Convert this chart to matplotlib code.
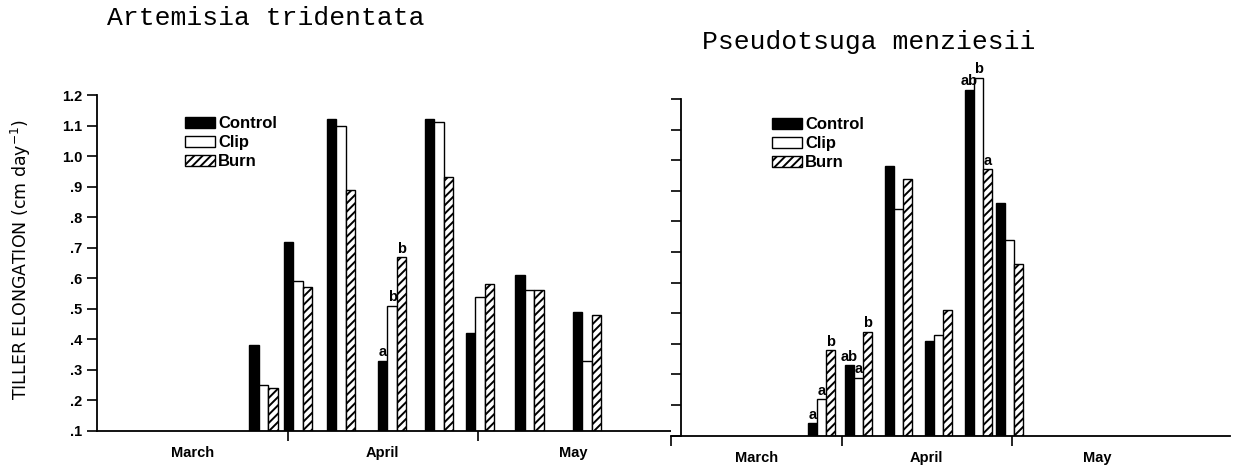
import numpy as np
import matplotlib
matplotlib.use('Agg')
import matplotlib.pyplot as plt

plt.rcParams['font.family'] = ['Liberation Sans', 'DejaVu Sans']
plt.rcParams['hatch.linewidth'] = 1.4

months = ['March', 'April', 'May']
month_centers = [0.5, 1.5, 2.5]
treatments = ['Control', 'Clip', 'Burn']

# x positions in month units (0 = start of March)
art_pos = [0.874, 1.055, 1.281, 1.549, 1.795, 2.010, 2.270, 2.572]
art_control = [0.38, 0.72, 1.12, 0.33, 1.12, 0.42, 0.61, 0.49]
art_clip = [0.25, 0.59, 1.10, 0.51, 1.11, 0.54, 0.56, 0.33]
art_burn = [0.24, 0.57, 0.89, 0.67, 0.93, 0.58, 0.56, 0.48]
art_letters = {3: ['a', 'b', 'b']}

pse_pos = [0.882, 1.099, 1.334, 1.569, 1.804, 1.986]
pse_control = [0.14, 0.33, 0.98, 0.41, 1.23, 0.86]
pse_clip = [0.22, 0.29, 0.84, 0.43, 1.27, 0.74]
pse_burn = [0.38, 0.44, 0.94, 0.51, 0.97, 0.66]
pse_letters = {0: ['a', 'a', 'b'], 1: ['ab', 'a', 'b'], 4: ['ab', 'b', 'a']}

yticks = np.round(np.arange(0.1, 1.21, 0.1), 1)
ytick_labels = ['.1', '.2', '.3', '.4', '.5', '.6', '.7', '.8', '.9', '1.0', '1.1', '1.2']

W, H = 1239, 471
fig = plt.figure(figsize=(W / 100, H / 100), dpi=100)


def draw(ax, pos, ctrl, clip, burn, letters, w):
    pos = np.array(pos)
    base = 0.1
    b1 = ax.bar(pos - w, np.array(ctrl) - base, w, bottom=base, color='black',
                edgecolor='black', linewidth=1)
    b2 = ax.bar(pos, np.array(clip) - base, w, bottom=base, color='white',
                edgecolor='black', linewidth=1)
    b3 = ax.bar(pos + w, np.array(burn) - base, w, bottom=base, color='white',
                edgecolor='black', linewidth=1, hatch='////')
    for i, labs in letters.items():
        for k, (x, v) in enumerate(zip([pos[i] - w, pos[i], pos[i] + w],
                                       [ctrl[i], clip[i], burn[i]])):
            ax.annotate(labs[k], (x, v), xytext=(0, 1), textcoords='offset points',
                        ha='center', va='bottom', fontsize=10.5, fontweight='bold')
    for s in ['top', 'right']:
        ax.spines[s].set_visible(False)
    for s in ['left', 'bottom']:
        ax.spines[s].set_linewidth(1.3)
    ax.tick_params(axis='both', which='major', direction='out', length=7, width=1.2)
    for x, m in zip(month_centers, months):
        ax.annotate(m, (x, 0), xycoords=ax.get_xaxis_transform(), xytext=(0, -11),
                    textcoords='offset points', ha='center', va='top',
                    fontsize=10.5, fontweight='bold')
    return b1, b2, b3


# Artemisia panel
ax1 = fig.add_axes([97 / W, 1 - 431 / H, (672 - 97) / W, (431 - 95) / H])
bars = draw(ax1, art_pos, art_control, art_clip, art_burn, art_letters, 0.05)
ax1.set_xlim(0, 575 / 190.5)
ax1.set_ylim(0.1, 1.2)
ax1.set_xticks([1, 2])
ax1.set_xticklabels([])
ax1.set_yticks(yticks)
ax1.set_yticklabels(ytick_labels, fontsize=10.5, fontweight='bold')
ax1.legend(bars, treatments, loc='upper left', bbox_to_anchor=(185 / W, 1 - 116 / H),
           bbox_transform=fig.transFigure, frameon=False,
           prop={'size': 12, 'weight': 'bold'},
           handlelength=1.8, handleheight=0.65, labelspacing=0.25,
           handletextpad=0.2, borderpad=0, borderaxespad=0)

# Pseudotsuga panel
ax2 = fig.add_axes([671 / W, 1 - 435.7 / H, (1230 - 671) / W, (435.7 - 68.4) / H])
bars = draw(ax2, pse_pos, pse_control, pse_clip, pse_burn, pse_letters, 0.053)
ax2.set_xlim(0, 559 / 170.5)
ax2.set_ylim(0.1, 1.3)
ax2.spines['left'].set_position(('data', 10 / 170.5))
ax2.spines['left'].set_bounds(0.1, 1.2)
ax2.set_xticks([0, 1, 2])
ax2.set_xticklabels([])
ax2.set_yticks(yticks)
ax2.set_yticklabels([])
ax2.legend(bars, treatments, loc='upper left', bbox_to_anchor=(772 / W, 1 - 117 / H),
           bbox_transform=fig.transFigure, frameon=False,
           prop={'size': 12, 'weight': 'bold'},
           handlelength=1.8, handleheight=0.65, labelspacing=0.25,
           handletextpad=0.2, borderpad=0, borderaxespad=0)

fig.text(107 / W, 1 - 18 / H, 'Artemisia tridentata', family='Liberation Mono',
         fontsize=19, va='center', ha='left')
fig.text(702 / W, 1 - 42 / H, 'Pseudotsuga menziesii', family='Liberation Mono',
         fontsize=19, va='center', ha='left')
fig.text(21 / W, 1 - 260 / H, 'TILLER ELONGATION (cm day$^{-1}$)', rotation=90,
         fontsize=12.5, va='center', ha='center', family='DejaVu Sans')

fig.savefig('out.png')
plt.close(fig)
